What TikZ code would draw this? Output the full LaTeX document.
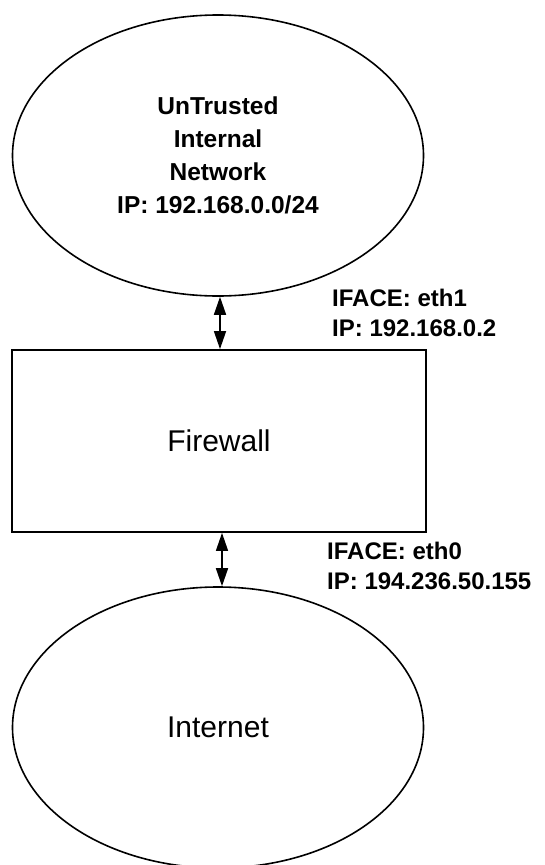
\documentclass[tikz,border=0pt]{standalone}
\usepackage{fontspec}
\setmainfont{Liberation Sans}
\usetikzlibrary{shapes.geometric,arrows.meta}
\begin{document}
\begin{tikzpicture}[x=1pt,y=-1pt,
  net/.style={draw=black,line width=1.6pt,ellipse,minimum width=411pt,minimum height=281pt,inner sep=0pt},
  fwbox/.style={draw=black,line width=1.8pt,minimum width=414pt,minimum height=182pt,inner sep=0pt},
  biarrow/.style={line width=1.6pt,{Triangle[length=18pt,width=12pt]}-{Triangle[length=18pt,width=12pt]}},
  lbl/.style={font=\bfseries\fontsize{24}{30}\selectfont,inner sep=0pt,anchor=base west},
  bigtxt/.style={font=\fontsize{30}{34}\selectfont}
]
\useasboundingbox[fill=white] (0,0) rectangle (545,865);
\node[net,align=center,font=\bfseries\fontsize{24.5}{33}\selectfont] (untrusted) at (218,155.5)
  {UnTrusted\\Internal\\Network\\IP: 192.168.0.0/24};
\node[fwbox,bigtxt] (fw) at (219,441) {Firewall};
\node[net,bigtxt] (inet) at (218,727.5) {Internet};
\draw[biarrow] ([xshift=2pt]untrusted.south) -- ([xshift=2pt]untrusted.south |- fw.north);
\draw[biarrow] ([xshift=3pt]fw.south) -- ([xshift=3pt]fw.south |- inet.north);
\node[lbl] (if1) at (332,306) {IFACE: eth1};
\node[lbl] (ip1) at (332,336) {IP: 192.168.0.2};
\node[lbl] (if0) at (327,559) {IFACE: eth0};
\node[lbl] (ip0) at (327,589) {IP: 194.236.50.155};
\end{tikzpicture}
\end{document}
